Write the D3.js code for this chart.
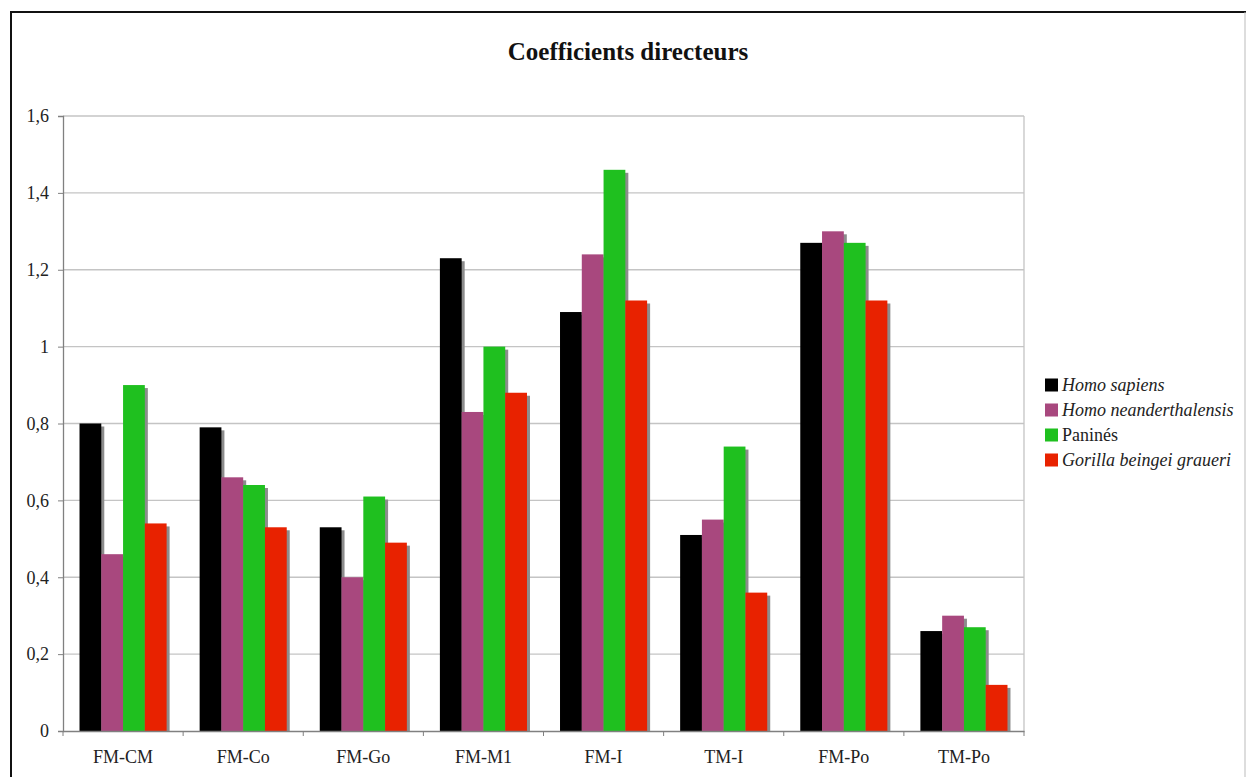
<!DOCTYPE html>
<html><head><meta charset="utf-8">
<script src="https://cdn.jsdelivr.net/npm/d3@7"></script>
<style>html,body{margin:0;padding:0;background:#fff;}</style>
</head><body><svg id="c" width="1246" height="777"></svg>
<script>
const categories = ["FM-CM","FM-Co","FM-Go","FM-M1","FM-I","TM-I","FM-Po","TM-Po"];
const seriesNames = ["Homo sapiens","Homo neanderthalensis","Paninés","Gorilla beingei graueri"];
const seriesItalic = [true,true,false,true];
const seriesColors = ["#000000","#a8487e","#1fc01f","#e82200"];
const homoSapiens = [0.80,0.79,0.53,1.23,1.09,0.51,1.27,0.26];
const homoNeander = [0.46,0.66,0.40,0.83,1.24,0.55,1.30,0.30];
const panines     = [0.90,0.64,0.61,1.00,1.46,0.74,1.27,0.27];
const gorilla     = [0.54,0.53,0.49,0.88,1.12,0.36,1.12,0.12];
const yTicks = [0,0.2,0.4,0.6,0.8,1,1.2,1.4,1.6];
const seriesValues = [homoSapiens,homoNeander,panines,gorilla];

const svg = d3.select("#c");
const font = "'Liberation Serif','Times New Roman',serif";
// outer frame
svg.append("line").attr("x1",10).attr("x2",1246).attr("y1",12).attr("y2",12).attr("stroke","#111").attr("stroke-width",2);
svg.append("line").attr("x1",11).attr("x2",11).attr("y1",11).attr("y2",777).attr("stroke","#111").attr("stroke-width",2);
svg.append("line").attr("x1",1245).attr("x2",1245).attr("y1",12).attr("y2",777).attr("stroke","#bbb").attr("stroke-width",1);

svg.append("text").attr("x",628).attr("y",60).attr("text-anchor","middle")
  .attr("font-family",font).attr("font-weight","bold").attr("font-size",25).attr("fill","#111").text("Coefficients directeurs");

const L=63,R=1024,T=116,B=731;
const x = d3.scaleBand().domain(categories).range([L,R]).padding(0);
const groupFrac = 0.725;
const xs = d3.scaleBand().domain(d3.range(seriesNames.length))
  .range([0, x.bandwidth()*groupFrac]).padding(0);
const y = d3.scaleLinear().domain([0,1.6]).range([B,T]);

const g = svg.append("g");
// gridlines
g.selectAll("line.grid").data(yTicks.filter(d=>d>0)).join("line")
  .attr("x1",L).attr("x2",R).attr("y1",d=>y(d)).attr("y2",d=>y(d))
  .attr("stroke","#c4c4c4").attr("stroke-width",1.3);
// right border
g.append("line").attr("x1",R).attr("x2",R).attr("y1",T).attr("y2",B).attr("stroke","#c4c4c4").attr("stroke-width",1.3);

const off = x.bandwidth()*(1-groupFrac)/2;
seriesValues.forEach((vals,si)=>{
  g.append("g").selectAll("rect").data(vals).join("rect")
    .attr("x",(d,i)=>x(categories[i])+off+xs(si)+3)
    .attr("y",d=>y(d)+3)
    .attr("width",xs.bandwidth())
    .attr("height",d=>B-y(d)-3)
    .attr("fill","#8c8c8c");
});
seriesValues.forEach((vals,si)=>{
  g.append("g").selectAll("rect").data(vals).join("rect")
    .attr("x",(d,i)=>x(categories[i])+off+xs(si))
    .attr("y",d=>y(d))
    .attr("width",xs.bandwidth())
    .attr("height",d=>B-y(d))
    .attr("fill",seriesColors[si]);
});

// y axis
const ya = svg.append("g").attr("transform",`translate(${L},0)`)
  .call(d3.axisLeft(y).tickValues(yTicks).tickSize(5).tickPadding(9)
    .tickFormat(d=>String(d).replace(".",",")));
ya.select(".domain").attr("stroke","#808080").attr("stroke-width",1.3);
ya.selectAll(".tick line").attr("stroke","#808080");
ya.selectAll("text").attr("font-family",font).attr("font-size",18).attr("fill","#222");

// x axis
const xa = svg.append("g").attr("transform",`translate(0,${B})`)
  .call(d3.axisBottom(x).tickSize(0).tickPadding(19));
xa.select(".domain").attr("stroke","#808080").attr("stroke-width",1.3);
xa.selectAll("text").attr("font-family",font).attr("font-size",18).attr("fill","#222");
xa.selectAll("line.sep").data(categories.concat(["end"])).join("line").attr("class","sep")
  .attr("x1",(d,i)=>L+i*x.step()).attr("x2",(d,i)=>L+i*x.step())
  .attr("y1",0).attr("y2",5).attr("stroke","#808080");

// legend
const lg = svg.append("g").attr("transform","translate(1045,385)");
seriesNames.forEach((n,i)=>{
  const r = lg.append("g").attr("transform",`translate(0,${i*25})`);
  r.append("rect").attr("x",0).attr("y",-6.5).attr("width",13).attr("height",13).attr("fill",seriesColors[i]);
  r.append("text").attr("x",17).attr("y",6).attr("font-family",font).attr("font-size",18)
    .attr("font-style",seriesItalic[i]?"italic":"normal").attr("fill","#222").text(n);
});
</script></body></html>
